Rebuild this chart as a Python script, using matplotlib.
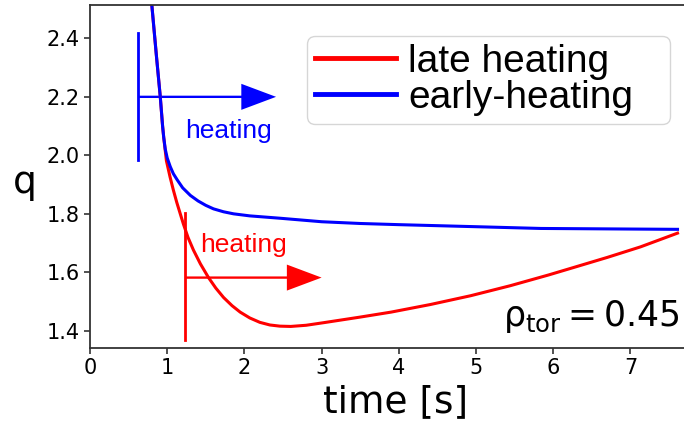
import matplotlib
matplotlib.use("Agg")
import matplotlib.pyplot as plt

plt.rcParams['mathtext.default'] = 'regular'

# q(t) at rho_tor = 0.45
t_late = [0.80, 0.86, 0.91, 0.94, 0.955, 0.99, 1.037, 1.08, 1.124, 1.21, 1.27,
          1.34, 1.43, 1.535, 1.63, 1.73, 1.84, 1.945, 2.07, 2.2, 2.33, 2.46,
          2.6, 2.8, 3.03, 3.5, 3.9, 4.41, 4.93, 5.44, 5.94, 6.27, 6.70, 7.13,
          7.61]
q_late = [2.515, 2.34, 2.2, 2.10, 2.06, 1.98, 1.925, 1.88, 1.838, 1.764,
          1.718, 1.675, 1.628, 1.581, 1.545, 1.513, 1.485, 1.463, 1.443, 1.428,
          1.419, 1.415, 1.414, 1.418, 1.427, 1.446, 1.463, 1.489, 1.519, 1.553,
          1.59, 1.616, 1.650, 1.686, 1.733]

t_early = [0.80, 0.86, 0.91, 0.94, 0.955, 0.975, 1.0, 1.04, 1.08, 1.13, 1.2,
           1.3, 1.4, 1.5, 1.6, 1.73, 1.86, 2.07, 2.46, 3.0, 3.5, 4.0, 5.0,
           5.84, 7.0, 7.61]
q_early = [2.515, 2.34, 2.2, 2.10, 2.06, 2.02, 1.99, 1.96, 1.936, 1.915,
           1.888, 1.862, 1.843, 1.828, 1.816, 1.806, 1.799, 1.792, 1.784,
           1.772, 1.766, 1.762, 1.755, 1.749, 1.747, 1.746]

# heating start times and arrow tips
t_heat_early, t_tip_early = 0.627, 2.41
t_heat_late, t_tip_late = 1.23, 3.0

fig = plt.figure(figsize=(6.84, 4.21), dpi=100)
ax = fig.add_axes([90/684, 73.5/421, 596/684, 342.5/421])

ax.plot(t_late, q_late, color='red', lw=2.2, label='late heating')
ax.plot(t_early, q_early, color='blue', lw=2.2, label='early-heating')

# heating markers
ax.plot([t_heat_early, t_heat_early], [1.9815, 2.418], color='blue', lw=2)
ax.arrow(t_heat_early, 2.199, t_tip_early - t_heat_early, 0, width=0.008,
         head_width=0.089, head_length=0.45, length_includes_head=True,
         color='blue', lw=0)
ax.text(1.79, 2.057, 'heating', color='blue', fontsize=19,
        family='Liberation Sans', ha='center', va='baseline')

ax.plot([t_heat_late, t_heat_late], [1.367, 1.801], color='red', lw=2)
ax.arrow(t_heat_late, 1.581, t_tip_late - t_heat_late, 0, width=0.008,
         head_width=0.089, head_length=0.45, length_includes_head=True,
         color='red', lw=0)
ax.text(1.99, 1.667, 'heating', color='red', fontsize=19,
        family='Liberation Sans', ha='center', va='baseline')

ax.text(0.99, 0.064, r'$\rho_\mathrm{tor} = 0.45$', transform=ax.transAxes,
        fontsize=25, ha='right', va='baseline')

ax.set_xlim(0, 7.72)
ax.set_ylim(1.342, 2.513)
ax.set_xticks(range(8))
ax.set_yticks([1.4, 1.6, 1.8, 2.0, 2.2, 2.4])
ax.tick_params(labelsize=15, length=4, width=1.2, color='0.2')
for s in ax.spines.values():
    s.set_linewidth(1.3)
    s.set_color('0.2')

ax.set_xlabel('time [s]', fontsize=27)
ax.xaxis.set_label_coords(0.513, -0.108)
ax.set_ylabel('q', fontsize=27, rotation=0, va='center', ha='center')
ax.yaxis.set_label_coords(-0.11, 0.48)

leg = ax.legend(loc='upper left',
                bbox_to_anchor=(307/684, 1 - 128/421, 363/684, 92/421),
                bbox_transform=fig.transFigure, borderaxespad=0, mode='expand',
                prop={'family': 'Liberation Sans', 'size': 28},
                labelspacing=0.0, borderpad=0.2, handletextpad=0.3,
                handlelength=2.1)
for line in leg.get_lines():
    line.set_linewidth(3.5)

fig.savefig('out.png', dpi=100)
